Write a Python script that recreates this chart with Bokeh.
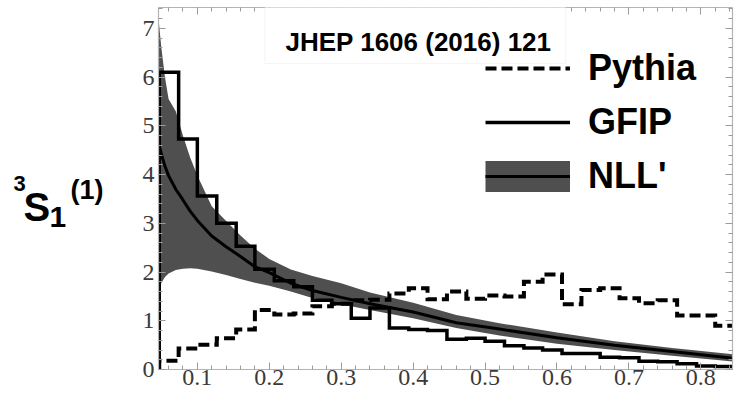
from bokeh.plotting import figure
from bokeh.layouts import row
from bokeh.models import (Range1d, LinearAxis, SingleIntervalTicker, PrintfTickFormatter,
                          Legend, LegendItem, Label, BoxAnnotation, CustomLabelingPolicy,
                          ColumnDataSource)
from bokeh.core.properties import value
from bokeh.embed import file_html
from bokeh.resources import INLINE

# ---- data ----
bin_edges = [0.047, 0.074, 0.100, 0.127, 0.154, 0.180, 0.207, 0.234, 0.260, 0.287,
             0.314, 0.340, 0.367, 0.394, 0.420, 0.447, 0.474, 0.500, 0.527, 0.554,
             0.580, 0.607, 0.634, 0.660, 0.687, 0.714, 0.740, 0.767, 0.794, 0.820, 0.847]

gfip_hist = [6.10, 4.73, 3.56, 3.00, 2.53, 2.06, 1.82, 1.70, 1.42, 1.35,
             1.05, 1.26, 0.85, 0.82, 0.80, 0.62, 0.64, 0.58, 0.49, 0.44,
             0.40, 0.33, 0.33, 0.25, 0.24, 0.17, 0.16, 0.12, 0.07, 0.06]

pythia_hist = [0.18, 0.43, 0.51, 0.64, 0.82, 1.22, 1.13, 1.15, 1.30, 1.35,
               1.42, 1.43, 1.56, 1.67, 1.44, 1.60, 1.45, 1.52, 1.50, 1.80,
               1.95, 1.34, 1.63, 1.67, 1.46, 1.36, 1.42, 1.11, 1.11, 0.90]

nll_x = [0.046, 0.05, 0.055, 0.06, 0.07, 0.08, 0.09, 0.10, 0.12, 0.14, 0.16, 0.18,
         0.20, 0.23, 0.26, 0.30, 0.34, 0.40, 0.46, 0.52, 0.60, 0.68, 0.76, 0.846]
nll_central = [4.65, 4.42, 4.17, 3.98, 3.70, 3.48, 3.25, 3.06, 2.74, 2.52, 2.32, 2.11,
               1.99, 1.77, 1.62, 1.48, 1.35, 1.18, 0.96, 0.83, 0.65, 0.50, 0.37, 0.23]
nll_upper = [7.20, 6.60, 6.00, 5.55, 5.30, 4.80, 4.35, 3.98, 3.35, 3.05, 2.75, 2.48,
             2.27, 2.05, 1.92, 1.77, 1.58, 1.37, 1.12, 0.95, 0.76, 0.58, 0.44, 0.31]
nll_lower = [1.60, 1.78, 1.90, 1.97, 2.04, 2.07, 2.08, 2.07, 2.01, 1.94, 1.86, 1.78,
             1.72, 1.60, 1.47, 1.34, 1.22, 1.05, 0.85, 0.70, 0.53, 0.40, 0.28, 0.16]

legend_labels = ["Pythia", "GFIP", "NLL'"]
title_text = "JHEP 1606 (2016) 121"
ylabel_parts = ["3", "S", "1", "(1)"]


def step_xy(edges, vals):
    xs, ys = [edges[0]], [0.0]
    for i, v in enumerate(vals):
        xs += [edges[i], edges[i + 1]]
        ys += [v, v]
    return xs, ys


LEFT_W = 130
p = figure(width=736 - LEFT_W, height=393, x_range=Range1d(0.046, 0.844), y_range=Range1d(0, 7.43),
           output_backend="svg", toolbar_location=None,
           min_border_left=158 - LEFT_W, min_border_right=1, min_border_top=7, min_border_bottom=24)
p.xgrid.visible = False
p.ygrid.visible = False
p.outline_line_color = None
p.background_fill_color = "white"
p.border_fill_color = "white"

AX = "#b4b4b4"
TK = "#9a9a9a"
LBL = "#3a3a3a"

hide_all = CustomLabelingPolicy(code="""
    for (const i of indices) { indices.unset(i) }
""")

def style(ax, show_labels=True, standoff=0):
    ax.axis_line_color = AX
    ax.axis_line_width = 1.2
    ax.major_tick_line_color = TK
    ax.minor_tick_line_color = TK
    ax.major_tick_in = 7
    ax.major_tick_out = 0
    ax.minor_tick_in = 4
    ax.minor_tick_out = 0
    ax.major_label_standoff = standoff
    ax.major_label_text_font = "Liberation Serif"
    ax.major_label_text_color = LBL
    if show_labels:
        ax.major_label_text_font_size = "24px"
    else:
        ax.major_label_text_font_size = "2px"
        ax.major_label_policy = hide_all

p.xaxis.ticker = SingleIntervalTicker(interval=0.1, num_minor_ticks=5)
p.yaxis.ticker = SingleIntervalTicker(interval=1, num_minor_ticks=5)
p.xaxis.formatter = PrintfTickFormatter(format="%.1f")
p.yaxis.formatter = PrintfTickFormatter(format="%d")
style(p.xaxis[0], True, 0)
style(p.yaxis[0], True, 4)

top = LinearAxis(ticker=SingleIntervalTicker(interval=0.1, num_minor_ticks=5))
style(top, False)
p.add_layout(top, "above")
right = LinearAxis(ticker=SingleIntervalTicker(interval=1, num_minor_ticks=5))
style(right, False)
p.add_layout(right, "right")

BAND = "#4f4f4f"
# NLL' band + central curve
band = p.varea(x=nll_x, y1=nll_lower, y2=nll_upper, fill_color=BAND, fill_alpha=1)
central = p.line(nll_x, nll_central, line_color="black", line_width=3)

# GFIP histogram
gx, gy = step_xy(bin_edges, gfip_hist)
gfip_r = p.line(gx, gy, line_color="black", line_width=3.5, line_join="miter")

# Pythia histogram
px_, py_ = step_xy(bin_edges, pythia_hist)
pythia_r = p.line(px_, py_, line_color="black", line_width=4, line_dash="11 5", line_join="miter")

# legend proxy for the band (a thick line gives a full-size swatch); it lies outside the view
band_proxy = p.line(x=[0.0, 0.01], y=[-5, -5], line_color=BAND, line_width=31, line_cap="butt")

legend = Legend(items=[LegendItem(label=legend_labels[0], renderers=[pythia_r]),
                       LegendItem(label=legend_labels[1], renderers=[gfip_r]),
                       LegendItem(label=legend_labels[2], renderers=[band_proxy, central])],
                location=(327, 172), padding=0, margin=0, spacing=12,
                glyph_width=85, glyph_height=32, label_standoff=18,
                label_text_font="Liberation Sans", label_text_font_style="bold",
                label_text_font_size="36px", label_text_color="black",
                background_fill_alpha=0, border_line_alpha=0)
p.add_layout(legend)

# title box
box = BoxAnnotation(left=0.194, right=0.612, bottom=6.28, top=7.9,
                    fill_color="white", fill_alpha=1, line_color="#ecd3dc", line_width=1,
                    level="overlay")
p.add_layout(box)
p.add_layout(Label(x=260, y=328, x_units="screen", y_units="screen", text=title_text,
                   text_font="Liberation Sans", text_font_style="bold", text_font_size="26px",
                   text_align="center", text_baseline="alphabetic", text_color="black",
                   level="overlay"))

# left strip with the y label  3S1(1)
fl = figure(width=LEFT_W, height=393, x_range=Range1d(0, LEFT_W), y_range=Range1d(393, 0),
            x_axis_type=None, y_axis_type=None, output_backend="svg", toolbar_location=None,
            min_border=0)
fl.outline_line_color = None
fl.xgrid.visible = False
fl.ygrid.visible = False
src = ColumnDataSource(dict(x=[13, 23, 49, 70], y=[191, 217, 227, 198], t=ylabel_parts,
                            fs=["22px", "40px", "30px", "27px"]))
fl.text(x="x", y="y", text="t", text_font_size="fs", source=src,
        text_font=value("Liberation Sans"), text_font_style="bold",
        text_baseline="alphabetic", text_align="left", text_color="black")

layout = row(fl, p, spacing=0)
open("out.html", "w").write(file_html(layout, INLINE))
